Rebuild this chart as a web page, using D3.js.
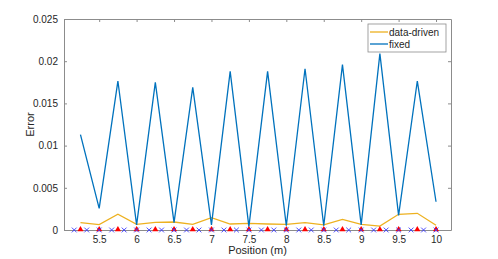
<!DOCTYPE html>
<html>
<head>
<script src="https://cdn.jsdelivr.net/npm/d3@7"></script>
<style>
body { margin: 0; background: white; }
text { font-family: "Liberation Sans", Arial, sans-serif; fill: #262626; }
</style>
</head>
<body>
<script>
// positions of the estimated points (m)
var positions = [5.25, 5.5, 5.75, 6, 6.25, 6.5, 6.75, 7, 7.25, 7.5,
	7.75, 8, 8.25, 8.5, 8.75, 9, 9.25, 9.5, 9.75, 10];
var dataDriven = [0.00087, 0.00063, 0.00186, 0.00067, 0.00091, 0.00095, 0.00067, 0.00146, 0.00071, 0.00079,
	0.00071, 0.00067, 0.00087, 0.0006, 0.00126, 0.00067, 0.00047, 0.00186, 0.00198, 0.00056];
var fixed = [0.0113, 0.00257, 0.01765, 0.0006, 0.0175, 0.00087, 0.0169, 0.0006, 0.0188, 0.0004,
	0.0188, 0.0005, 0.0191, 0.0005, 0.0196, 0.0006, 0.0209, 0.00174, 0.01765, 0.00335];
// sensor positions (every 1/6 m)
var sensors = [5.1667, 5.3333, 5.5, 5.6667, 5.8333, 6, 6.1667, 6.3333, 6.5, 6.6667,
	6.8333, 7, 7.1667, 7.3333, 7.5, 7.6667, 7.8333, 8, 8.1667, 8.3333,
	8.5, 8.6667, 8.8333, 9, 9.1667, 9.3333, 9.5, 9.6667, 9.8333, 10];
var xTicks = [5.5, 6, 6.5, 7, 7.5, 8, 8.5, 9, 9.5, 10];
var yTicks = [0, 0.005, 0.01, 0.015, 0.02, 0.025];
var yTickLabels = ["0", "0.005", "0.01", "0.015", "0.02", "0.025"];
var seriesNames = ["data-driven", "fixed"];
var seriesColors = ["#EDB120", "#0072BD"];

var w = 498, h = 259;
var mLeft = 64, mRight = 451, mTop = 19, mBottom = 230;

var svg = d3.select("body").append("svg")
	.attr("width", w)
	.attr("height", h);

var x = d3.scaleLinear().domain([5.03, 10.2]).range([mLeft, mRight]);
var y = d3.scaleLinear().domain([0, 0.025]).range([mBottom, mTop]);

function styleAxis(g) {
	g.selectAll("path").attr("stroke", "#8c8c8c");
	g.selectAll("line").attr("stroke", "#8c8c8c");
	g.selectAll("text").style("font-size", "10px").attr("fill", "#333");
}

// axes with inward ticks on all four sides
svg.append("g").attr("transform", "translate(0," + mBottom + ")")
	.call(d3.axisBottom(x).tickValues(xTicks).tickSizeInner(-3).tickSizeOuter(0).tickPadding(6)
		.tickFormat(d3.format("")))
	.call(styleAxis);
svg.append("g").attr("transform", "translate(0," + mTop + ")")
	.call(d3.axisTop(x).tickValues(xTicks).tickSizeInner(-3).tickSizeOuter(0).tickFormat(""))
	.call(styleAxis);
svg.append("g").attr("transform", "translate(" + mLeft + ",0)")
	.call(d3.axisLeft(y).tickValues(yTicks).tickSizeInner(-3).tickSizeOuter(0).tickPadding(6)
		.tickFormat(function(d, i) { return yTickLabels[i]; }))
	.call(styleAxis);
svg.append("g").attr("transform", "translate(" + mRight + ",0)")
	.call(d3.axisRight(y).tickValues(yTicks).tickSizeInner(-3).tickSizeOuter(0).tickFormat(""))
	.call(styleAxis);

// lines
var line = d3.line()
	.x(function(d, i) { return x(positions[i]); })
	.y(function(d) { return y(d); });

[dataDriven, fixed].forEach(function(s, k) {
	svg.append("path")
		.attr("d", line(s))
		.attr("fill", "none")
		.attr("stroke", seriesColors[k])
		.attr("stroke-width", 1.3);
});

// red triangles at the estimate positions
svg.selectAll("path.tri").data(positions).enter().append("path")
	.attr("class", "tri")
	.attr("d", d3.symbol().type(d3.symbolTriangle).size(16))
	.attr("transform", function(d) { return "translate(" + x(d) + "," + (y(0) - 0.5) + ")"; })
	.attr("fill", "#ff0000");

// blue crosses at the sensor positions
svg.selectAll("path.cross").data(sensors).enter().append("path")
	.attr("class", "cross")
	.attr("d", "M-2.4,-2.4L2.4,2.4M-2.4,2.4L2.4,-2.4")
	.attr("transform", function(d) { return "translate(" + x(d) + "," + y(0) + ")"; })
	.attr("stroke", "#3a3aff")
	.attr("stroke-width", 0.9)
	.attr("fill", "none");

// axis labels
svg.append("text")
	.attr("x", (mLeft + mRight) / 2)
	.attr("y", 254)
	.attr("text-anchor", "middle")
	.style("font-size", "11px")
	.text("Position (m)");
svg.append("text")
	.attr("transform", "translate(34," + ((mTop + mBottom) / 2) + ") rotate(-90)")
	.attr("text-anchor", "middle")
	.style("font-size", "11px")
	.text("Error");

// legend
var lg = svg.append("g").attr("transform", "translate(368,24)");
lg.append("rect")
	.attr("width", 78).attr("height", 28)
	.attr("fill", "white")
	.attr("stroke", "#8c8c8c")
	.attr("stroke-width", 0.8);
seriesNames.forEach(function(name, i) {
	var yy = 8 + i * 12;
	lg.append("line")
		.attr("x1", 2).attr("x2", 20).attr("y1", yy).attr("y2", yy)
		.attr("stroke", seriesColors[i]).attr("stroke-width", 1.3);
	lg.append("text")
		.attr("x", 21).attr("y", yy + 3.5)
		.style("font-size", "10px")
		.text(name);
});
</script>
</body>
</html>
